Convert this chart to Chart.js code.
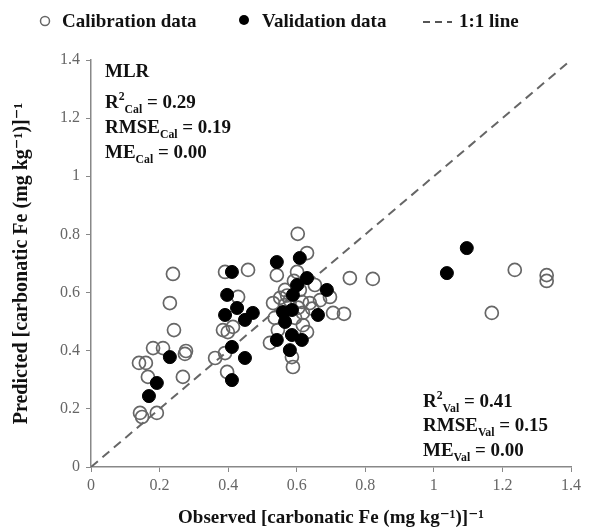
<!DOCTYPE html>
<html>
<head>
<meta charset="utf-8">
<script src="https://cdn.jsdelivr.net/npm/chart.js@4/dist/chart.umd.min.js"></script>
<style>
  html, body { margin: 0; padding: 0; background: #fff; }
  #wrap { width: 605px; height: 531px; position: relative; }
</style>
</head>
<body>
<div id="wrap"><canvas id="c"></canvas></div>
<script>
// observed / predicted values
var calObserved  = [0.143, 0.149, 0.192, 0.140, 0.160, 0.181, 0.210, 0.166, 0.268, 0.274, 0.277, 0.239, 0.230, 0.242,
                    0.362, 0.391, 0.397, 0.391, 0.458, 0.429, 0.385, 0.399, 0.414,
                    0.542, 0.601, 0.630, 0.603, 0.531, 0.615, 0.638, 0.697, 0.706, 0.738, 0.618, 0.536, 0.545, 0.618,
                    0.630, 0.522, 0.586, 0.589, 0.755, 0.822, 0.566, 0.580, 0.595, 0.566, 0.653, 0.668, 0.609,
                    0.572, 0.604, 0.552, 0.645, 0.592,
                    1.236, 1.329, 1.329, 1.169];
var calPredicted = [0.186, 0.172, 0.186, 0.358, 0.358, 0.409, 0.409, 0.310, 0.310, 0.389, 0.399, 0.664, 0.564, 0.471,
                    0.375, 0.392, 0.327, 0.671, 0.678, 0.585, 0.471, 0.464, 0.482,
                    0.660, 0.671, 0.736, 0.802, 0.564, 0.568, 0.564, 0.585, 0.530, 0.527, 0.530, 0.513, 0.471, 0.488,
                    0.464, 0.427, 0.378, 0.344, 0.650, 0.647, 0.609, 0.574, 0.513, 0.557, 0.626, 0.574, 0.609,
                    0.590, 0.548, 0.582, 0.545, 0.640,
                    0.678, 0.660, 0.640, 0.530];
var valObserved  = [0.169, 0.192, 0.230, 0.411, 0.397, 0.391, 0.426, 0.449, 0.472, 0.411, 0.449, 0.411,
                    0.542, 0.609, 0.630, 0.601, 0.688, 0.589, 0.560, 0.586, 0.662, 0.566, 0.542, 0.586, 0.615, 0.580,
                    1.038, 1.096];
var valPredicted = [0.244, 0.289, 0.378, 0.671, 0.592, 0.523, 0.547, 0.506, 0.530, 0.413, 0.375, 0.299,
                    0.705, 0.719, 0.650, 0.626, 0.609, 0.592, 0.533, 0.540, 0.523, 0.499, 0.437, 0.454, 0.437, 0.402,
                    0.667, 0.753];
var oneToOne = [0, 1.4];
var axisTicks = [0, 0.2, 0.4, 0.6, 0.8, 1, 1.2, 1.4];

var calStats = ['0.29', '0.19', '0.00'];
var valStats = ['0.41', '0.15', '0.00'];

function pts(xs, ys){
	var out = [];
	for (var i = 0; i < xs.length; i++) out.push({ x: xs[i], y: ys[i] });
	return out;
}

var SERIF = '"Liberation Serif", "DejaVu Serif", serif';

// text with sub / superscripts
function drawRuns(ctx, runs, x, y, size){
	for (var i = 0; i < runs.length; i++) {
		var r = runs[i], s = size, dy = 0;
		if (r.sup) { s = size * 0.62; dy = -size * 0.42; }
		if (r.sub) { s = size * 0.62; dy = size * 0.28; }
		ctx.font = 'bold ' + s + 'px ' + SERIF;
		ctx.fillText(r.t, x, y + dy);
		x += ctx.measureText(r.t).width;
	}
	return x;
}

var extras = {
	id: 'extras',
	afterDraw: function(chart){
		var ctx = chart.ctx;
		ctx.save();
		ctx.fillStyle = '#111';
		ctx.textBaseline = 'alphabetic';
		ctx.textAlign = 'left';

		// legend
		ctx.lineWidth = 1.5;
		ctx.strokeStyle = '#666';
		ctx.beginPath(); ctx.arc(45, 21, 4.5, 0, Math.PI * 2); ctx.stroke();
		ctx.fillStyle = '#000';
		ctx.beginPath(); ctx.arc(244, 20, 5, 0, Math.PI * 2); ctx.fill();
		ctx.strokeStyle = '#555';
		ctx.lineWidth = 2;
		ctx.setLineDash([7, 5]);
		ctx.beginPath(); ctx.moveTo(423, 22); ctx.lineTo(452, 22); ctx.stroke();
		ctx.setLineDash([]);
		ctx.fillStyle = '#111';
		ctx.font = 'bold 19px ' + SERIF;
		ctx.fillText('Calibration data', 62, 27);
		ctx.fillText('Validation data', 262, 27);
		ctx.fillText('1:1 line', 459, 27);

		// statistics
		var sz = 19;
		drawRuns(ctx, [{ t: 'MLR' }], 105, 77, sz);
		drawRuns(ctx, [{ t: 'R' }, { t: '2', sup: true }, { t: 'Cal', sub: true }, { t: ' = ' + calStats[0] }], 105, 108, sz);
		drawRuns(ctx, [{ t: 'RMSE' }, { t: 'Cal', sub: true }, { t: ' = ' + calStats[1] }], 105, 133, sz);
		drawRuns(ctx, [{ t: 'ME' }, { t: 'Cal', sub: true }, { t: ' = ' + calStats[2] }], 105, 158, sz);

		drawRuns(ctx, [{ t: 'R' }, { t: '2', sup: true }, { t: 'Val', sub: true }, { t: ' = ' + valStats[0] }], 423, 407, sz);
		drawRuns(ctx, [{ t: 'RMSE' }, { t: 'Val', sub: true }, { t: ' = ' + valStats[1] }], 423, 431, sz);
		drawRuns(ctx, [{ t: 'ME' }, { t: 'Val', sub: true }, { t: ' = ' + valStats[2] }], 423, 456, sz);
		ctx.restore();
	}
};

function fmt(v){ return String(Number(v.toFixed(1))); }

new Chart(document.getElementById('c').getContext('2d'), {
	type: 'scatter',
	data: {
		datasets: [
			{
				label: 'Validation data',
				data: pts(valObserved, valPredicted),
				pointStyle: 'circle',
				pointRadius: 6.5,
				pointBackgroundColor: '#000',
				pointBorderColor: '#000',
				pointBorderWidth: 1,
				order: 1
			},
			{
				label: 'Calibration data',
				data: pts(calObserved, calPredicted),
				pointStyle: 'circle',
				pointRadius: 6.5,
				pointBackgroundColor: 'rgba(255,255,255,0)',
				pointBorderColor: '#666',
				pointBorderWidth: 1.7,
				order: 2
			},
			{
				label: '1:1 line',
				data: pts(oneToOne, oneToOne),
				showLine: true,
				pointRadius: 0,
				borderColor: '#666',
				borderWidth: 2,
				borderDash: [9, 6],
				order: 3
			}
		]
	},
	options: {
		responsive: true,
		maintainAspectRatio: false,
		animation: false,
		layout: { padding: { top: 60, right: 34, left: 4, bottom: 2 } },
		plugins: { legend: { display: false }, tooltip: { enabled: false } },
		scales: {
			x: {
				type: 'linear',
				min: 0, max: 1.4,
				afterBuildTicks: function(s){ s.ticks = axisTicks.map(function(v){ return { value: v }; }); },
				afterFit: function(s){ s.height = 62; },
				border: { color: '#888', width: 1.5 },
				grid: { drawOnChartArea: false, drawTicks: true, tickLength: 5, color: '#888' },
				ticks: { color: '#666', font: { family: SERIF, size: 16 }, padding: 4, maxRotation: 0, callback: fmt },
				title: { display: true, text: 'Observed [carbonatic Fe (mg kg\u207B\u00B9)]\u207B\u00B9', color: '#111',
					font: { family: SERIF, size: 19, weight: 'bold' }, padding: { top: 0, bottom: 0 } }
			},
			y: {
				type: 'linear',
				min: 0, max: 1.4,
				afterBuildTicks: function(s){ s.ticks = axisTicks.map(function(v){ return { value: v }; }); },
				afterFit: function(s){ s.width = 87; },
				border: { color: '#888', width: 1.5 },
				grid: { drawOnChartArea: false, drawTicks: true, tickLength: 5, color: '#888' },
				ticks: { color: '#666', font: { family: SERIF, size: 16 }, padding: 6, callback: fmt },
				title: { display: true, text: 'Predicted [carbonatic Fe (mg kg\u207B\u00B9)]\u207B\u00B9', color: '#111',
					font: { family: SERIF, size: 20, weight: 'bold' }, padding: { top: 6, bottom: 4 } }
			}
		}
	},
	plugins: [extras]
});
</script>
</body>
</html>
